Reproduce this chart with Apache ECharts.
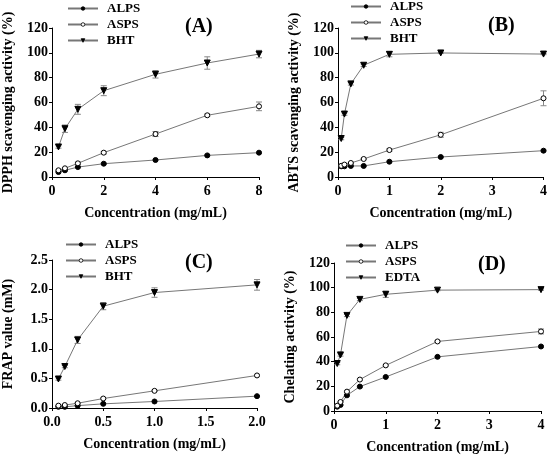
<!DOCTYPE html>
<html>
<head>
<meta charset="utf-8">
<script src="https://cdn.jsdelivr.net/npm/echarts@6/dist/echarts.min.js"></script>
<style>
  html, body { margin: 0; padding: 0; background: #fff; }
  #chart { width: 550px; height: 462px; }
</style>
</head>
<body>
<div id="chart"></div>
<script>
// panel A - DPPH
const xA = [0.25, 0.5, 1, 2, 4, 6, 8];
const alpsA = [4, 5.4, 8, 10.7, 13.7, 17.4, 19.6];
const aspsA = [5.4, 7, 11, 19.6, 34.6, 49.7, 56.9];
const bhtA = [24.2, 38.9, 54.5, 69.5, 82.7, 91.8, 99];
const errAlpsA = [0.5, 0.5, 0.5, 0.5, 0.5, 0.5, 0.5];
const errAspsA = [0.5, 0.5, 1, 1, 2, 1, 3.5];
const errBhtA = [1, 3, 4, 4, 3, 5, 3];

// panel B - ABTS
const xB = [0.0625, 0.125, 0.25, 0.5, 1, 2, 4];
const alpsB = [8.6, 8.6, 8.9, 8.9, 12.3, 16.1, 21.2];
const aspsB = [9, 10, 11.3, 14.5, 21.7, 34, 63.4];
const bhtB = [31, 50.7, 75, 90, 98.8, 99.9, 99];
const errAlpsB = [0.5, 0.5, 0.5, 0.5, 0.5, 0.5, 0.5];
const errAspsB = [0.5, 0.5, 0.5, 0.5, 1, 2, 6];
const errBhtB = [1, 1, 1, 1, 2, 0.5, 0.5];

// panel C - FRAP
const xC = [0.0625, 0.125, 0.25, 0.5, 1, 2];
const alpsC = [0.02, 0.02, 0.04, 0.07, 0.11, 0.2];
const aspsC = [0.04, 0.05, 0.08, 0.16, 0.29, 0.55];
const bhtC = [0.49, 0.7, 1.15, 1.72, 1.95, 2.08];
const errAlpsC = [0.005, 0.005, 0.005, 0.005, 0.005, 0.01];
const errAspsC = [0.005, 0.005, 0.005, 0.01, 0.01, 0.01];
const errBhtC = [0.02, 0.02, 0.06, 0.06, 0.08, 0.09];

// panel D - chelating
const xD = [0.0625, 0.125, 0.25, 0.5, 1, 2, 4];
const alpsD = [3.5, 4.9, 12.7, 19.8, 27.6, 43.9, 52.3];
const aspsD = [4.3, 7.3, 15.7, 25.5, 37, 56.4, 64.5];
const edtaD = [38.5, 45.5, 77.5, 90.5, 94.6, 98, 98.4];
const errAlpsD = [0.5, 0.5, 0.5, 0.5, 0.5, 0.5, 0.5];
const errAspsD = [0.5, 0.5, 0.5, 0.5, 0.5, 0.5, 2];
const errEdtaD = [1, 1, 1, 1, 2.5, 0.5, 0.5];

// axis ticks
const xTicksA = [0, 2, 4, 6, 8];
const xTicksB = [0, 1, 2, 3, 4];
const xTicksC = [0, 0.5, 1, 1.5, 2];
const xTicksD = [0, 1, 2, 3, 4];
const yTicksPct = [0, 20, 40, 60, 80, 100, 120];
const yTicksC = [0, 0.5, 1, 1.5, 2, 2.5];

const panelLabels = ['(A)', '(B)', '(C)', '(D)'];
const yNames = ['DPPH scavenging activity (%)', 'ABTS scavenging activity (%)', 'FRAP value (mM)', 'Chelating activity (%)'];
const xName = 'Concentration (mg/mL)';

const FONT = "'Liberation Serif', 'Times New Roman', serif";
const LINE = '#777';

const grids = [
  { left: 52, top: 28, width: 207, height: 149 },
  { left: 338, top: 28, width: 206, height: 149 },
  { left: 52, top: 260, width: 205, height: 148 },
  { left: 334, top: 263, width: 207, height: 148 }
];

function pairs(xs, ys) {
  return xs.map((x, i) => [x, ys[i]]);
}

function errData(xs, ys, es) {
  return xs.map((x, i) => [x, ys[i], es[i]]);
}

function axisX(i, ticks, dec) {
  return {
    type: 'value', gridIndex: i,
    min: ticks[0], max: ticks[ticks.length - 1], interval: ticks[1] - ticks[0],
    name: xName, nameLocation: 'middle', nameGap: 29,
    nameTextStyle: { fontFamily: FONT, fontWeight: 'bold', fontSize: 14, color: '#000' },
    axisLine: { show: true, onZero: false, lineStyle: { color: '#000', width: 1 } },
    axisTick: { show: true, length: 3, lineStyle: { color: '#000' } },
    axisLabel: {
      margin: 7, fontFamily: FONT, fontWeight: 'bold', fontSize: 14, color: '#000',
      formatter: v => dec ? v.toFixed(dec) : String(v)
    },
    splitLine: { show: false }
  };
}

function axisY(i, ticks, dec) {
  return {
    type: 'value', gridIndex: i,
    min: ticks[0], max: ticks[ticks.length - 1], interval: ticks[1] - ticks[0],
    name: yNames[i], nameLocation: 'middle', nameGap: 37,
    nameTextStyle: { fontFamily: FONT, fontWeight: 'bold', fontSize: 14, color: '#000' },
    axisLine: { show: true, onZero: false, lineStyle: { color: '#000', width: 1 } },
    axisTick: { show: true, length: 3, lineStyle: { color: '#000' } },
    axisLabel: {
      margin: 4, fontFamily: FONT, fontWeight: 'bold', fontSize: 14, color: '#000',
      formatter: v => dec ? v.toFixed(dec) : String(v)
    },
    splitLine: { show: false }
  };
}

function lineSeries(i, name, data, kind) {
  const s = {
    name: name, type: 'line', xAxisIndex: i, yAxisIndex: i,
    data: data, symbolSize: 5, z: 3,
    lineStyle: { color: LINE, width: 1 },
    itemStyle: { color: '#000', borderColor: '#000', borderWidth: 1 },
    color: '#000'
  };
  if (kind === 'open') {
    s.symbol = 'circle';
    s.itemStyle = { color: '#fff', borderColor: '#000', borderWidth: 1 };
  } else if (kind === 'tri') {
    s.symbol = 'triangle';
    s.symbolRotate = 180;
    s.symbolSize = 6;
  } else {
    s.symbol = 'circle';
  }
  return s;
}

function errSeries(i, data) {
  return {
    type: 'custom', xAxisIndex: i, yAxisIndex: i, data: data, z: 2,
    silent: true,
    renderItem: function (params, api) {
      const x = api.value(0), y = api.value(1), e = api.value(2);
      const hi = api.coord([x, y + e]);
      const lo = api.coord([x, y - e]);
      const w = 3;
      const style = { stroke: '#888', lineWidth: 1 };
      return {
        type: 'group',
        children: [
          { type: 'line', shape: { x1: hi[0], y1: hi[1], x2: lo[0], y2: lo[1] }, style: style },
          { type: 'line', shape: { x1: hi[0] - w, y1: hi[1], x2: hi[0] + w, y2: hi[1] }, style: style },
          { type: 'line', shape: { x1: lo[0] - w, y1: lo[1], x2: lo[0] + w, y2: lo[1] }, style: style }
        ]
      };
    }
  };
}

function legend(left, top, names) {
  return {
    left: left, top: top, orient: 'vertical', padding: 0, itemGap: 3,
    itemWidth: 30, itemHeight: 4.5, data: names,
    itemStyle: { borderWidth: 0.8 },
    textStyle: {
      fontFamily: FONT, fontWeight: 'bold', fontSize: 13, color: '#000',
      padding: [0, 0, 0, 4]
    },
    selectedMode: false
  };
}

function label(text, x, y) {
  return {
    text: text, left: x, top: y, padding: 0,
    textStyle: { fontFamily: FONT, fontWeight: 'bold', fontSize: 20, color: '#000' }
  };
}

const option = {
  animation: false,
  backgroundColor: '#fff',
  title: [
    label(panelLabels[0], 185, 17),
    label(panelLabels[1], 488, 16),
    label(panelLabels[2], 185, 253),
    label(panelLabels[3], 478, 255)
  ],
  legend: [
    legend(67, 2, ['ALPS', 'ASPS', 'BHT']),
    legend(350, 0, ['ALPS', 'ASPS', 'BHT']),
    legend(65, 238, ['ALPS', 'ASPS', 'BHT']),
    legend(345, 239, ['ALPS', 'ASPS', 'EDTA'])
  ],
  grid: grids,
  xAxis: [axisX(0, xTicksA, 0), axisX(1, xTicksB, 0), axisX(2, xTicksC, 1), axisX(3, xTicksD, 0)],
  yAxis: [axisY(0, yTicksPct, 0), axisY(1, yTicksPct, 0), axisY(2, yTicksC, 1), axisY(3, yTicksPct, 0)],
  series: [
    errSeries(0, errData(xA, alpsA, errAlpsA)),
    errSeries(0, errData(xA, aspsA, errAspsA)),
    errSeries(0, errData(xA, bhtA, errBhtA)),
    lineSeries(0, 'ALPS', pairs(xA, alpsA), 'fill'),
    lineSeries(0, 'ASPS', pairs(xA, aspsA), 'open'),
    lineSeries(0, 'BHT', pairs(xA, bhtA), 'tri'),

    errSeries(1, errData(xB, alpsB, errAlpsB)),
    errSeries(1, errData(xB, aspsB, errAspsB)),
    errSeries(1, errData(xB, bhtB, errBhtB)),
    lineSeries(1, 'ALPS', pairs(xB, alpsB), 'fill'),
    lineSeries(1, 'ASPS', pairs(xB, aspsB), 'open'),
    lineSeries(1, 'BHT', pairs(xB, bhtB), 'tri'),

    errSeries(2, errData(xC, alpsC, errAlpsC)),
    errSeries(2, errData(xC, aspsC, errAspsC)),
    errSeries(2, errData(xC, bhtC, errBhtC)),
    lineSeries(2, 'ALPS', pairs(xC, alpsC), 'fill'),
    lineSeries(2, 'ASPS', pairs(xC, aspsC), 'open'),
    lineSeries(2, 'BHT', pairs(xC, bhtC), 'tri'),

    errSeries(3, errData(xD, alpsD, errAlpsD)),
    errSeries(3, errData(xD, aspsD, errAspsD)),
    errSeries(3, errData(xD, edtaD, errEdtaD)),
    lineSeries(3, 'ALPS', pairs(xD, alpsD), 'fill'),
    lineSeries(3, 'ASPS', pairs(xD, aspsD), 'open'),
    lineSeries(3, 'EDTA', pairs(xD, edtaD), 'tri')
  ]
};

const chart = echarts.init(document.getElementById('chart'));
chart.setOption(option);
</script>
</body>
</html>
